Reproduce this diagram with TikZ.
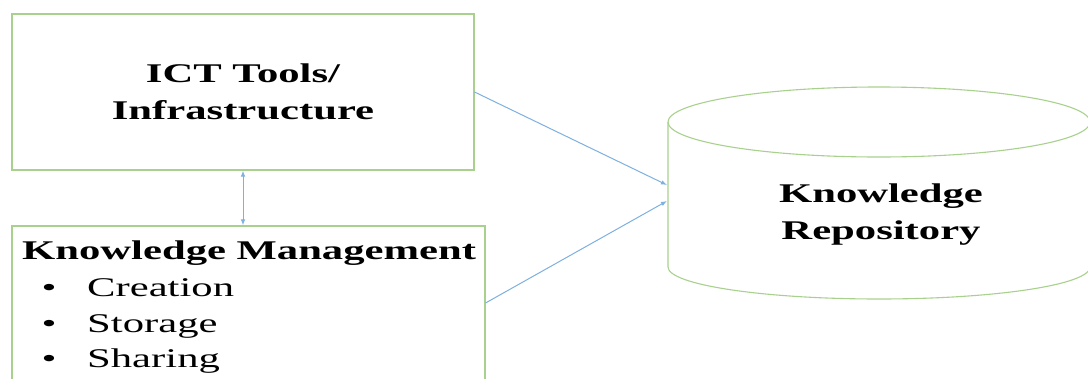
\documentclass[tikz,border=0pt]{standalone}
\usepackage{fontspec}
\setmainfont{Liberation Serif}[FakeStretch=1.58]
\usetikzlibrary{arrows.meta}
\definecolor{boxgreen}{HTML}{A9D18E}
\definecolor{arrowblue}{HTML}{7EB0E0}
\tikzset{
  greenbox/.style={draw=boxgreen, line width=1.1pt, fill=white, inner sep=0pt},
  conn/.style={draw=arrowblue, line width=1pt, -{Latex[length=6pt,width=4.5pt]}},
  biconn/.style={draw=arrowblue, line width=1pt, {Latex[length=6pt,width=4.5pt]}-{Latex[length=6pt,width=4.5pt]}},
  bigtext/.style={font=\fontsize{27}{37}\selectfont\bfseries, align=center},
  itemtext/.style={font=\fontsize{27}{36}\selectfont, inner sep=0pt}
}
\begin{document}
\begin{tikzpicture}[x=1pt, y=-1pt]
\useasboundingbox (0,0) rectangle (1088,378);
\fill[white] (0,0) rectangle (1088,378);
\begin{scope}
\clip (0,0) rectangle (1088,378);
% top box
\node[greenbox, bigtext, minimum width=462pt, minimum height=156pt] (ict) at (243,92) {ICT Tools/\\Infrastructure};
% bottom box
\node[greenbox, minimum width=473pt, minimum height=154pt] (km) at (248.5,303) {};
\node[itemtext, font=\fontsize{27}{36}\selectfont\bfseries, anchor=base west] (kmt) at (22,259) {Knowledge Management};
\node[itemtext, anchor=base] (b1) at (49,296) {•};
\node[itemtext, anchor=base west] (i1) at (87,296) {Creation};
\node[itemtext, anchor=base] (b2) at (49,332) {•};
\node[itemtext, anchor=base west] (i2) at (87,332) {Storage};
\node[itemtext, anchor=base] (b3) at (49,367) {•};
\node[itemtext, anchor=base west] (i3) at (87,367) {Sharing};
% cylinder
\draw[boxgreen, line width=1.1pt]
  (668,122) -- (668,267) arc[start angle=180, end angle=360, x radius=211pt, y radius=32pt]
  -- (1090,122);
\draw[boxgreen, line width=1.1pt] (879,122) ellipse[x radius=211pt, y radius=35pt];
\node[bigtext] (repo) at (881,215) {Knowledge\\Repository};
\coordinate (in1) at (667,185);
\coordinate (in2) at (667,201);
% connectors
\draw[conn] (ict.east) -- (in1);
\draw[conn] (km.east) -- (in2);
\draw[biconn] (ict.south) -- (ict.south |- km.north);
\end{scope}
\end{tikzpicture}
\end{document}
